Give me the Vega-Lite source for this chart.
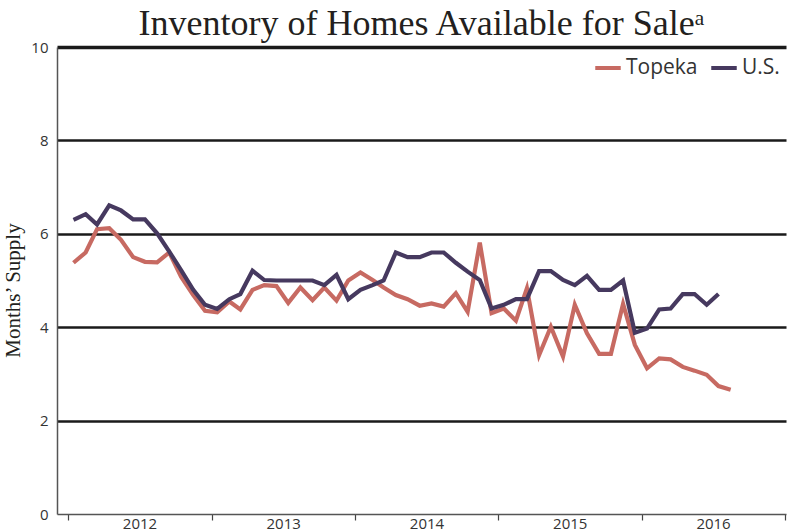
{
  "$schema": "https://vega.github.io/schema/vega-lite/v6.json",
  "autosize": "none",
  "width": 729,
  "height": 467,
  "padding": {"left": 57, "top": 47, "right": 2, "bottom": 17},
  "background": "white",
  "title": {
    "text": "Inventory of Homes Available for Saleᵃ",
    "font": "Liberation Serif",
    "fontSize": 36,
    "fontWeight": "normal",
    "color": "#231f20",
    "anchor": "middle",
    "offset": -3
  },
  "config": {
    "view": {"stroke": null},
    "axis": {"labelFont": "Open Sans", "labelColor": "#333333", "labelFontSize": 15}
  },
  "data": {
    "values": [
      {"date": "2012-01-15", "series": "Topeka", "value": 5.38},
      {"date": "2012-02-15", "series": "Topeka", "value": 5.60},
      {"date": "2012-03-15", "series": "Topeka", "value": 6.10},
      {"date": "2012-04-15", "series": "Topeka", "value": 6.12},
      {"date": "2012-05-15", "series": "Topeka", "value": 5.87},
      {"date": "2012-06-15", "series": "Topeka", "value": 5.50},
      {"date": "2012-07-15", "series": "Topeka", "value": 5.40},
      {"date": "2012-08-15", "series": "Topeka", "value": 5.39},
      {"date": "2012-09-15", "series": "Topeka", "value": 5.60},
      {"date": "2012-10-15", "series": "Topeka", "value": 5.08},
      {"date": "2012-11-15", "series": "Topeka", "value": 4.69},
      {"date": "2012-12-15", "series": "Topeka", "value": 4.35},
      {"date": "2013-01-15", "series": "Topeka", "value": 4.32},
      {"date": "2013-02-15", "series": "Topeka", "value": 4.55},
      {"date": "2013-03-15", "series": "Topeka", "value": 4.38},
      {"date": "2013-04-15", "series": "Topeka", "value": 4.80},
      {"date": "2013-05-15", "series": "Topeka", "value": 4.90},
      {"date": "2013-06-15", "series": "Topeka", "value": 4.88},
      {"date": "2013-07-15", "series": "Topeka", "value": 4.52},
      {"date": "2013-08-15", "series": "Topeka", "value": 4.85},
      {"date": "2013-09-15", "series": "Topeka", "value": 4.58},
      {"date": "2013-10-15", "series": "Topeka", "value": 4.85},
      {"date": "2013-11-15", "series": "Topeka", "value": 4.57},
      {"date": "2013-12-15", "series": "Topeka", "value": 5.00},
      {"date": "2014-01-15", "series": "Topeka", "value": 5.17},
      {"date": "2014-02-15", "series": "Topeka", "value": 5.01},
      {"date": "2014-03-15", "series": "Topeka", "value": 4.85},
      {"date": "2014-04-15", "series": "Topeka", "value": 4.69},
      {"date": "2014-05-15", "series": "Topeka", "value": 4.60},
      {"date": "2014-06-15", "series": "Topeka", "value": 4.46},
      {"date": "2014-07-15", "series": "Topeka", "value": 4.51},
      {"date": "2014-08-15", "series": "Topeka", "value": 4.44},
      {"date": "2014-09-15", "series": "Topeka", "value": 4.73},
      {"date": "2014-10-15", "series": "Topeka", "value": 4.33},
      {"date": "2014-11-15", "series": "Topeka", "value": 5.81},
      {"date": "2014-12-15", "series": "Topeka", "value": 4.30},
      {"date": "2015-01-15", "series": "Topeka", "value": 4.40},
      {"date": "2015-02-15", "series": "Topeka", "value": 4.14},
      {"date": "2015-03-15", "series": "Topeka", "value": 4.83},
      {"date": "2015-04-15", "series": "Topeka", "value": 3.40},
      {"date": "2015-05-15", "series": "Topeka", "value": 4.01},
      {"date": "2015-06-15", "series": "Topeka", "value": 3.37},
      {"date": "2015-07-15", "series": "Topeka", "value": 4.48},
      {"date": "2015-08-15", "series": "Topeka", "value": 3.87},
      {"date": "2015-09-15", "series": "Topeka", "value": 3.43},
      {"date": "2015-10-15", "series": "Topeka", "value": 3.43},
      {"date": "2015-11-15", "series": "Topeka", "value": 4.50},
      {"date": "2015-12-15", "series": "Topeka", "value": 3.62},
      {"date": "2016-01-15", "series": "Topeka", "value": 3.12},
      {"date": "2016-02-15", "series": "Topeka", "value": 3.33},
      {"date": "2016-03-15", "series": "Topeka", "value": 3.31},
      {"date": "2016-04-15", "series": "Topeka", "value": 3.15},
      {"date": "2016-05-15", "series": "Topeka", "value": 3.07},
      {"date": "2016-06-15", "series": "Topeka", "value": 2.98},
      {"date": "2016-07-15", "series": "Topeka", "value": 2.74},
      {"date": "2016-08-15", "series": "Topeka", "value": 2.66},
      {"date": "2012-01-15", "series": "U.S.", "value": 6.30},
      {"date": "2012-02-15", "series": "U.S.", "value": 6.42},
      {"date": "2012-03-15", "series": "U.S.", "value": 6.20},
      {"date": "2012-04-15", "series": "U.S.", "value": 6.61},
      {"date": "2012-05-15", "series": "U.S.", "value": 6.50},
      {"date": "2012-06-15", "series": "U.S.", "value": 6.31},
      {"date": "2012-07-15", "series": "U.S.", "value": 6.31},
      {"date": "2012-08-15", "series": "U.S.", "value": 6.01},
      {"date": "2012-09-15", "series": "U.S.", "value": 5.62},
      {"date": "2012-10-15", "series": "U.S.", "value": 5.22},
      {"date": "2012-11-15", "series": "U.S.", "value": 4.80},
      {"date": "2012-12-15", "series": "U.S.", "value": 4.48},
      {"date": "2013-01-15", "series": "U.S.", "value": 4.39},
      {"date": "2013-02-15", "series": "U.S.", "value": 4.60},
      {"date": "2013-03-15", "series": "U.S.", "value": 4.71},
      {"date": "2013-04-15", "series": "U.S.", "value": 5.21},
      {"date": "2013-05-15", "series": "U.S.", "value": 5.01},
      {"date": "2013-06-15", "series": "U.S.", "value": 5.00},
      {"date": "2013-07-15", "series": "U.S.", "value": 5.00},
      {"date": "2013-08-15", "series": "U.S.", "value": 5.00},
      {"date": "2013-09-15", "series": "U.S.", "value": 5.00},
      {"date": "2013-10-15", "series": "U.S.", "value": 4.90},
      {"date": "2013-11-15", "series": "U.S.", "value": 5.12},
      {"date": "2013-12-15", "series": "U.S.", "value": 4.60},
      {"date": "2014-01-15", "series": "U.S.", "value": 4.80},
      {"date": "2014-02-15", "series": "U.S.", "value": 4.90},
      {"date": "2014-03-15", "series": "U.S.", "value": 5.00},
      {"date": "2014-04-15", "series": "U.S.", "value": 5.60},
      {"date": "2014-05-15", "series": "U.S.", "value": 5.50},
      {"date": "2014-06-15", "series": "U.S.", "value": 5.50},
      {"date": "2014-07-15", "series": "U.S.", "value": 5.60},
      {"date": "2014-08-15", "series": "U.S.", "value": 5.60},
      {"date": "2014-09-15", "series": "U.S.", "value": 5.38},
      {"date": "2014-10-15", "series": "U.S.", "value": 5.19},
      {"date": "2014-11-15", "series": "U.S.", "value": 5.01},
      {"date": "2014-12-15", "series": "U.S.", "value": 4.40},
      {"date": "2015-01-15", "series": "U.S.", "value": 4.48},
      {"date": "2015-02-15", "series": "U.S.", "value": 4.60},
      {"date": "2015-03-15", "series": "U.S.", "value": 4.60},
      {"date": "2015-04-15", "series": "U.S.", "value": 5.20},
      {"date": "2015-05-15", "series": "U.S.", "value": 5.20},
      {"date": "2015-06-15", "series": "U.S.", "value": 5.01},
      {"date": "2015-07-15", "series": "U.S.", "value": 4.90},
      {"date": "2015-08-15", "series": "U.S.", "value": 5.10},
      {"date": "2015-09-15", "series": "U.S.", "value": 4.80},
      {"date": "2015-10-15", "series": "U.S.", "value": 4.80},
      {"date": "2015-11-15", "series": "U.S.", "value": 5.00},
      {"date": "2015-12-15", "series": "U.S.", "value": 3.88},
      {"date": "2016-01-15", "series": "U.S.", "value": 3.97},
      {"date": "2016-02-15", "series": "U.S.", "value": 4.38},
      {"date": "2016-03-15", "series": "U.S.", "value": 4.40},
      {"date": "2016-04-15", "series": "U.S.", "value": 4.71},
      {"date": "2016-05-15", "series": "U.S.", "value": 4.71},
      {"date": "2016-06-15", "series": "U.S.", "value": 4.48},
      {"date": "2016-07-15", "series": "U.S.", "value": 4.71}
    ]
  },
  "mark": {"type": "line", "strokeWidth": 4.2, "strokeJoin": "miter"},
  "encoding": {
    "x": {
      "field": "date",
      "type": "temporal",
      "scale": {
        "type": "utc",
        "domain": [
          {"year": 2011, "month": 12, "date": 4, "utc": true},
          {"year": 2017, "month": 1, "date": 3, "utc": true}
        ]
      },
      "axis": {
        "title": null,
        "grid": false,
        "values": [
          {"year": 2012, "month": 1, "date": 1, "utc": true},
          {"year": 2013, "month": 1, "date": 1, "utc": true},
          {"year": 2014, "month": 1, "date": 1, "utc": true},
          {"year": 2015, "month": 1, "date": 1, "utc": true},
          {"year": 2016, "month": 1, "date": 1, "utc": true},
          {"year": 2017, "month": 1, "date": 1, "utc": true}
        ],
        "labelExpr": "utcyear(datum.value) < 2017 ? utcFormat(datum.value, '%Y') : ''",
        "labelOffset": 71.5,
        "labelAlign": "center",
        "labelFontSize": 15,
        "labelPadding": -4,
        "labelOverlap": false,
        "labelFlush": false,
        "tickSize": 6,
        "tickColor": "#444444",
        "tickWidth": 1.2,
        "domainColor": "#555555",
        "domainWidth": 1.5
      }
    },
    "y": {
      "field": "value",
      "type": "quantitative",
      "scale": {"domain": [0, 10], "nice": false},
      "axis": {
        "title": "Months’ Supply",
        "titleFont": "Liberation Serif",
        "titleFontSize": 21,
        "titleFontWeight": "normal",
        "titleColor": "#231f20",
        "titlePadding": 7,
        "titleY": 243,
        "values": [0, 2, 4, 6, 8, 10],
        "ticks": false,
        "labelPadding": 9,
        "grid": true,
        "gridColor": {"condition": {"test": "datum.value === 0", "value": "transparent"}, "value": "#1a1a1a"},
        "gridWidth": {"condition": {"test": "datum.value === 10", "value": 3.5}, "value": 2.5},
        "domainColor": "#555555",
        "domainWidth": 1.5
      }
    },
    "color": {
      "field": "series",
      "type": "nominal",
      "scale": {"domain": ["Topeka", "U.S."], "range": ["#c76a62", "#46395f"]},
      "legend": {
        "title": null,
        "orient": "none",
        "legendX": 536,
        "legendY": 6,
        "direction": "horizontal",
        "symbolType": "stroke",
        "symbolSize": 650,
        "symbolStrokeWidth": 4,
        "labelFont": "Open Sans",
        "labelFontSize": 21,
        "labelColor": "#333333",
        "columnPadding": 5,
        "labelOffset": 3
      }
    }
  }
}
